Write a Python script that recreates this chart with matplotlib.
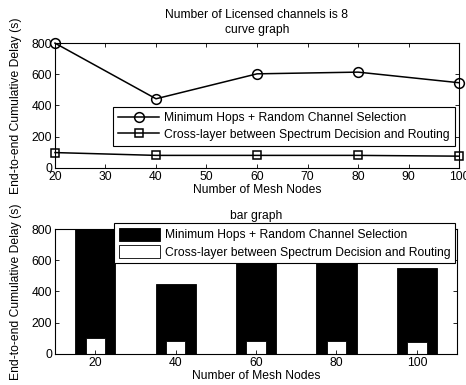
import numpy as np
import matplotlib
matplotlib.use('Agg')
import matplotlib.pyplot as plt

plt.rcParams['font.family'] = ['Liberation Sans', 'DejaVu Sans']
plt.rcParams['font.size'] = 8.7

# data
nodes = [20, 40, 60, 80, 100]
min_hops = [800, 443, 603, 614, 546]
cross_layer = [98, 80, 80, 80, 75]
bar_min_hops = [800, 450, 605, 615, 550]
bar_cross = [100, 80, 80, 80, 75]
lbl1 = 'Minimum Hops + Random Channel Selection'
lbl2 = 'Cross-layer between Spectrum Decision and Routing'
ylab = 'End-to-end Cumulative Delay (s)'
xlab = 'Number of Mesh Nodes'

fig = plt.figure(figsize=(4.66, 3.85), dpi=100)

def matlab_axes(ax):
    ax.tick_params(direction='in', top=True, right=True, length=3, width=0.6, pad=2)
    for s in ax.spines.values():
        s.set_linewidth(0.8)

# curve graph
ax1 = fig.add_axes([0.118, 0.564, 0.867, 0.324])
ax1.plot(nodes, min_hops, 'k-', marker='o', mfc='none', ms=7, lw=1.1, mew=1.1, clip_on=False, label=lbl1)
ax1.plot(nodes, cross_layer, 'k-', marker='s', mfc='none', ms=6, lw=1.1, mew=1.1, clip_on=False, label=lbl2)
ax1.set_xlim(20, 100)
ax1.set_ylim(0, 800)
ax1.set_xticks(range(20, 101, 10))
ax1.set_yticks(range(0, 801, 200))
ax1.set_xlabel(xlab, labelpad=1)
ax1.set_ylabel(ylab, labelpad=7)
ax1.set_title('Number of Licensed channels is 8\ncurve graph', fontsize=8.7, pad=7, linespacing=1.35)
matlab_axes(ax1)
leg1 = ax1.legend(loc='lower right', bbox_to_anchor=(0.99, 0.175), frameon=True, fancybox=False,
                  edgecolor='k', framealpha=1, borderpad=0.45, handlelength=3.4, labelspacing=0.35,
                  handletextpad=0.4, borderaxespad=0)
leg1.get_frame().set_linewidth(0.8)

# bar graph
ax2 = fig.add_axes([0.118, 0.081, 0.863, 0.324])
pos = np.arange(1, len(nodes) + 1)
ax2.bar(pos, bar_min_hops, width=0.5, color='k', edgecolor='k', lw=0.6, label=lbl1)
ax2.bar(pos, bar_cross, width=0.24, color='w', edgecolor='k', lw=0.6, label=lbl2)
ax2.set_xlim(0.5, 5.5)
ax2.set_ylim(0, 800)
ax2.set_xticks(pos)
ax2.set_xticklabels([str(n) for n in nodes])
ax2.set_yticks(range(0, 801, 200))
ax2.set_xlabel(xlab, labelpad=1)
ax2.set_ylabel(ylab, labelpad=7)
ax2.set_title('bar graph', fontsize=8.7, pad=7)
matlab_axes(ax2)
leg2 = ax2.legend(loc='upper right', bbox_to_anchor=(0.995, 1.05), frameon=True, fancybox=False,
                  edgecolor='k', framealpha=1, borderpad=0.4, handlelength=3.4, handleheight=1.3,
                  labelspacing=0.3, handletextpad=0.4, borderaxespad=0)
leg2.get_frame().set_linewidth(0.8)

fig.savefig('out.png', dpi=100)
